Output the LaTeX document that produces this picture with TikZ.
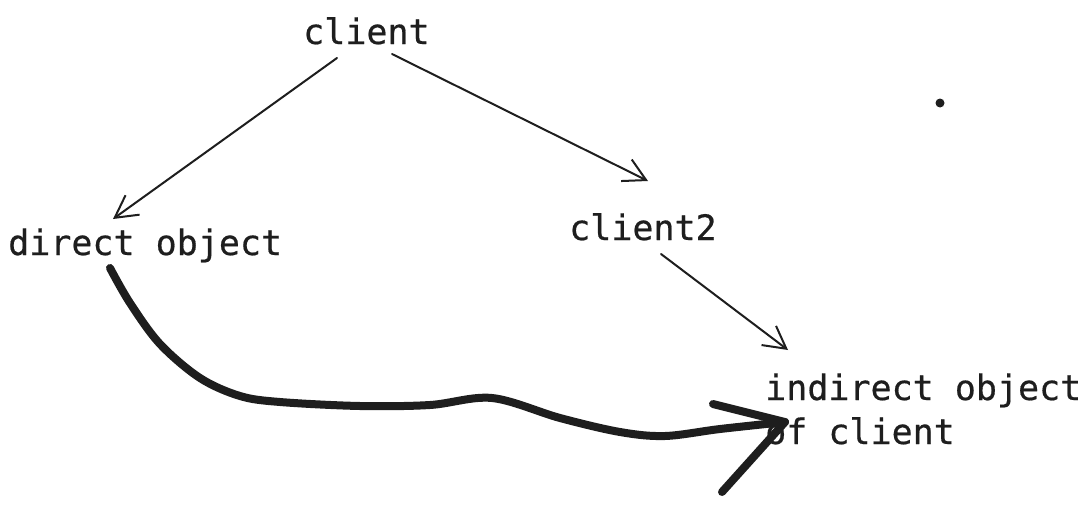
\documentclass[tikz,border=0pt]{standalone}
\usepackage{fontspec}
\newfontfamily\inkfont[FakeBold=0.5]{DejaVu Sans Mono}
\usetikzlibrary{arrows.meta,calc}
\definecolor{ink}{HTML}{1E1E1E}
\begin{document}
\begin{tikzpicture}[x=1pt,y=-1pt,
		word/.style={anchor=base west, inner sep=0pt, text=ink, font=\inkfont\fontsize{35}{44}\selectfont, align=left},
		link/.style={draw=ink, line width=2pt, line cap=round, -{Straight Barb[length=22pt,width=24pt,line width=2pt]}},
		heavy/.style={draw=ink, line width=8pt, line cap=round, line join=round}]
			\useasboundingbox (0,0) rectangle (1092,506);
			\node[word] (client) at (303,44) {client};
			\node[word] (direct) at (8,255) {direct object};
			\node[word] (client2) at (569,240) {client2};
			\node[word] (indirect) at (765,444) {indirect object\\of client};
			\node[circle, fill=ink, inner sep=0pt, minimum size=9pt] (dot) at (940,103) {};
			\draw[link] ($(client.base west)+(34,14)$) -- ($(direct.base west)+(105,-36)$);
			\draw[link] ($(client.base west)+(89,10)$) -- ($(client2.base west)+(79,-59)$);
			\draw[link] ($(client2.base west)+(92,14)$) -- ($(indirect.base west)+(23,-94)$);
			\coordinate (start) at ($(direct.base west)+(102,13)$);
			\coordinate (tip) at ($(indirect.base west)+(20,-22)$);
			\draw[heavy] plot[smooth, tension=0.55] coordinates {(start) (130,303) (160,344) (200,378) (240,396)
				(280,402) (360,406) (430,405) (492,398) (560,418) (620,432) (665,436) (720,429) (tip)};
			\draw[heavy] ($(indirect.base west)+(-52,-40)$) -- (tip) -- ($(indirect.base west)+(-43,48)$);
		\end{tikzpicture}
\end{document}
